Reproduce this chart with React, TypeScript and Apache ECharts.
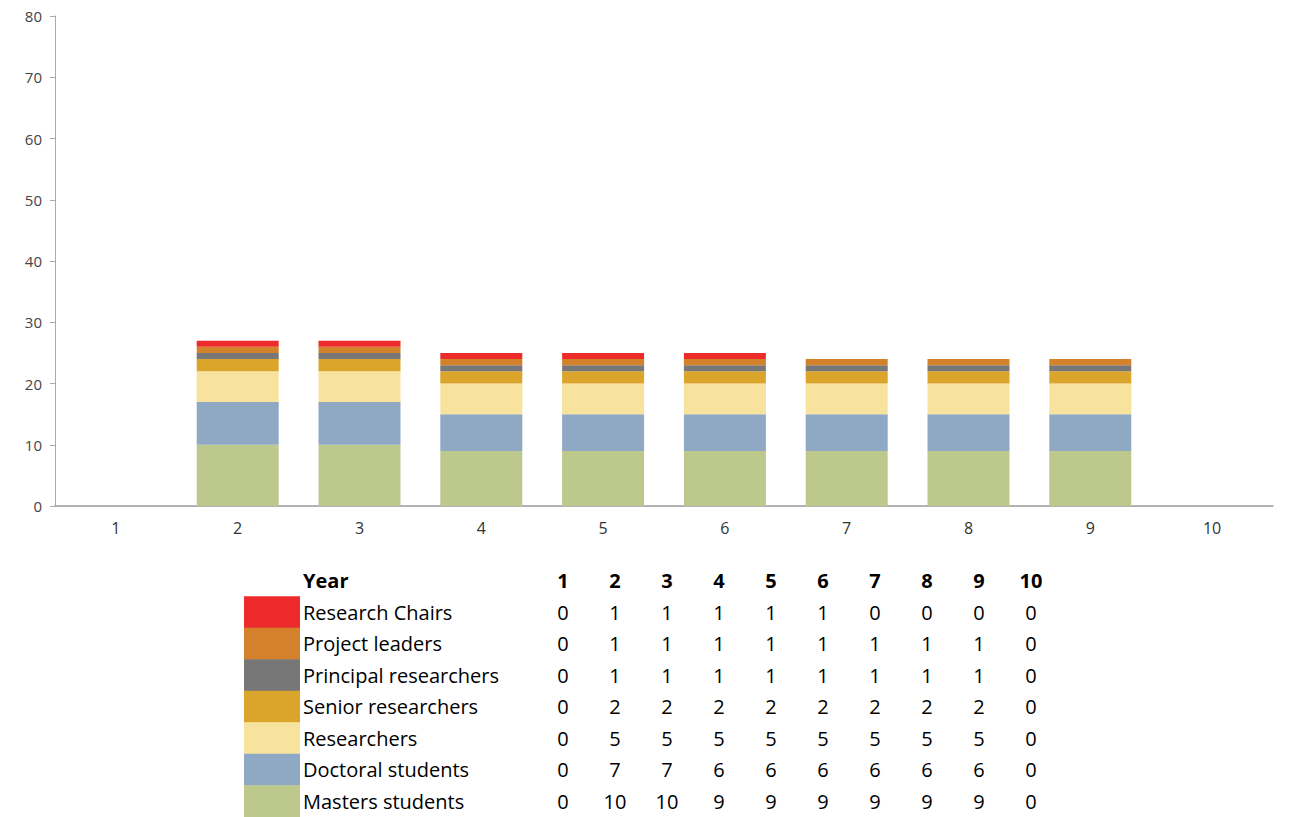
import React, { useEffect, useRef } from "react";
import * as echarts from "echarts";

const years = ["1", "2", "3", "4", "5", "6", "7", "8", "9", "10"];
const seriesNames = [
  "Research Chairs",
  "Project leaders",
  "Principal researchers",
  "Senior researchers",
  "Researchers",
  "Doctoral students",
  "Masters students",
];
const researchChairs = [0, 1, 1, 1, 1, 1, 0, 0, 0, 0];
const projectLeaders = [0, 1, 1, 1, 1, 1, 1, 1, 1, 0];
const principalResearchers = [0, 1, 1, 1, 1, 1, 1, 1, 1, 0];
const seniorResearchers = [0, 2, 2, 2, 2, 2, 2, 2, 2, 0];
const researchers = [0, 5, 5, 5, 5, 5, 5, 5, 5, 0];
const doctoralStudents = [0, 7, 7, 6, 6, 6, 6, 6, 6, 0];
const mastersStudents = [0, 10, 10, 9, 9, 9, 9, 9, 9, 0];
const colors = ["#EE2B2B", "#D3822B", "#777777", "#DBA52C", "#F7E39E", "#8FA9C4", "#BDC98C"];
const yTicks = { min: 0, max: 80, interval: 10 };

export default function App() {
  const ref = useRef<HTMLDivElement>(null);
  useEffect(() => {
    document.body.style.margin = "0";
    const chart = echarts.init(ref.current!, null, { renderer: "svg" });
    const rows = [
      researchChairs,
      projectLeaders,
      principalResearchers,
      seniorResearchers,
      researchers,
      doctoralStudents,
      mastersStudents,
    ];
    const stackOrder = [6, 5, 4, 3, 2, 1, 0];
    const series = stackOrder.map((i) => ({
      name: seriesNames[i],
      type: "bar",
      stack: "total",
      data: rows[i],
      barWidth: 82,
      itemStyle: { color: colors[i] },
    }));

    const font = "'Open Sans', 'Noto Sans', sans-serif";
    const colX0 = 563;
    const colDx = 52;
    const rowY0 = 612;
    const rowDy = 31.5;
    const graphic: any[] = [];
    graphic.push({
      type: "text",
      x: 303,
      y: 580,
      style: { text: "Year", font: `bold 20px ${font}`, fill: "#000", textVerticalAlign: "middle" },
    });
    years.forEach((y, j) => {
      graphic.push({
        type: "text",
        x: colX0 + j * colDx,
        y: 580,
        style: { text: y, font: `bold 20px ${font}`, fill: "#000", textAlign: "center", textVerticalAlign: "middle" },
      });
    });
    seriesNames.forEach((name, i) => {
      const cy = rowY0 + i * rowDy;
      graphic.push({
        type: "rect",
        shape: { x: 244, y: cy - rowDy / 2, width: 56, height: rowDy + 0.5 },
        style: { fill: colors[i] },
      });
      graphic.push({
        type: "text",
        x: 303,
        y: cy,
        style: { text: name, font: `20px ${font}`, fill: "#000", textVerticalAlign: "middle" },
      });
      rows[i].forEach((v, j) => {
        graphic.push({
          type: "text",
          x: colX0 + j * colDx,
          y: cy,
          style: { text: String(v), font: `20px ${font}`, fill: "#000", textAlign: "center", textVerticalAlign: "middle" },
        });
      });
    });

    chart.setOption({
      animation: false,
      backgroundColor: "#fff",
      grid: { left: 55, right: 25, top: 16, bottom: 311, containLabel: false },
      xAxis: {
        type: "category",
        data: years,
        axisLine: { lineStyle: { color: "#999", width: 1.5 } },
        axisTick: { show: false },
        axisLabel: { color: "#333", fontSize: 16, margin: 14, fontFamily: font },
      },
      yAxis: {
        type: "value",
        min: yTicks.min,
        max: yTicks.max,
        interval: yTicks.interval,
        axisLine: { show: true, lineStyle: { color: "#aaa" } },
        axisTick: { show: true, length: 5, lineStyle: { color: "#aaa" } },
        splitLine: { show: false },
        axisLabel: { color: "#444", fontSize: 15, margin: 13, fontFamily: font },
      },
      series,
      graphic,
    });
    return () => chart.dispose();
  }, []);
  return <div ref={ref} style={{ width: 1298, height: 817 }} />;
}
